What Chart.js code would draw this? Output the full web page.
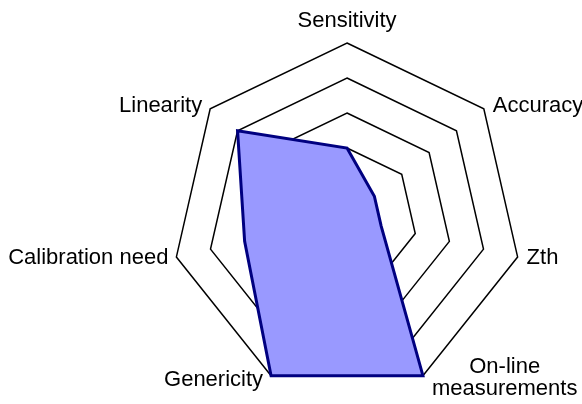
<!DOCTYPE html>
<html>
<head>
<meta charset="utf-8">
<script src="https://cdn.jsdelivr.net/npm/chart.js@4/dist/chart.umd.min.js"></script>
<style>
  body { margin: 0; background: #fff; }
  #wrap { width: 582px; height: 404px; }
</style>
</head>
<body>
<div id="wrap"><canvas id="radar"></canvas></div>
<script>
// axis names, clockwise from the top
const axisLabels = [
  "Sensitivity",
  "Accuracy",
  "Zth",
  ["On-line", "measurements"],
  "Genericity",
  "Calibration need",
  "Linearity"
];
const scores = [2, 1, 1, 5, 5, 3, 4];
const scaleMin = 0;
const scaleMax = 5;

// draw the axis names next to the outer ring, like the original
const axisLabelPlugin = {
  id: "axisLabelPlugin",
  afterDraw(chart) {
    const scale = chart.scales.r;
    const ctx = chart.ctx;
    const lineH = 22;
    ctx.save();
    ctx.font = '22px "Liberation Sans", Arial, sans-serif';
    ctx.fillStyle = "#000";
    axisLabels.forEach((label, i) => {
      const lines = Array.isArray(label) ? label : [label];
      const pos = scale.getPointPosition(i, scale.drawingArea);
      const angle = scale.getIndexAngle(i);
      const sin = Math.sin(angle);
      const cos = Math.cos(angle);
      if (Math.abs(sin) < 0.01) {
        // top label sits above the vertex
        ctx.textAlign = "center";
        ctx.textBaseline = "alphabetic";
        ctx.fillText(lines[0], pos.x, pos.y - 16);
        return;
      }
      const w = Math.max(...lines.map((l) => ctx.measureText(l).width));
      const x = sin > 0 ? pos.x + 9 : pos.x - 8 - w;
      // two-line labels are centred on the vertex height
      const yc = lines.length > 1 ? pos.y + 2 : pos.y - cos * 5;
      ctx.textAlign = "center";
      ctx.textBaseline = "middle";
      lines.forEach((l, k) => {
        ctx.fillText(l, x + w / 2, yc + (k - (lines.length - 1) / 2) * lineH);
      });
    });
    ctx.restore();
  }
};

new Chart(document.getElementById("radar"), {
  type: "radar",
  data: {
    labels: axisLabels,
    datasets: [
      {
        data: scores,
        backgroundColor: "#9999ff",
        borderColor: "#000080",
        borderWidth: 3,
        pointRadius: 0,
        pointHoverRadius: 0,
        fill: true
      }
    ]
  },
  options: {
    responsive: true,
    maintainAspectRatio: false,
    animation: false,
    layout: { padding: { left: 172, right: 60, top: 43, bottom: 11 } },
    plugins: {
      legend: { display: false },
      tooltip: { enabled: false }
    },
    scales: {
      r: {
        min: scaleMin,
        max: scaleMax,
        ticks: { display: false, stepSize: 1 },
        angleLines: { display: false },
        grid: { color: "#000", lineWidth: 1.5 },
        pointLabels: { display: false }
      }
    }
  },
  plugins: [axisLabelPlugin]
});
</script>
</body>
</html>
